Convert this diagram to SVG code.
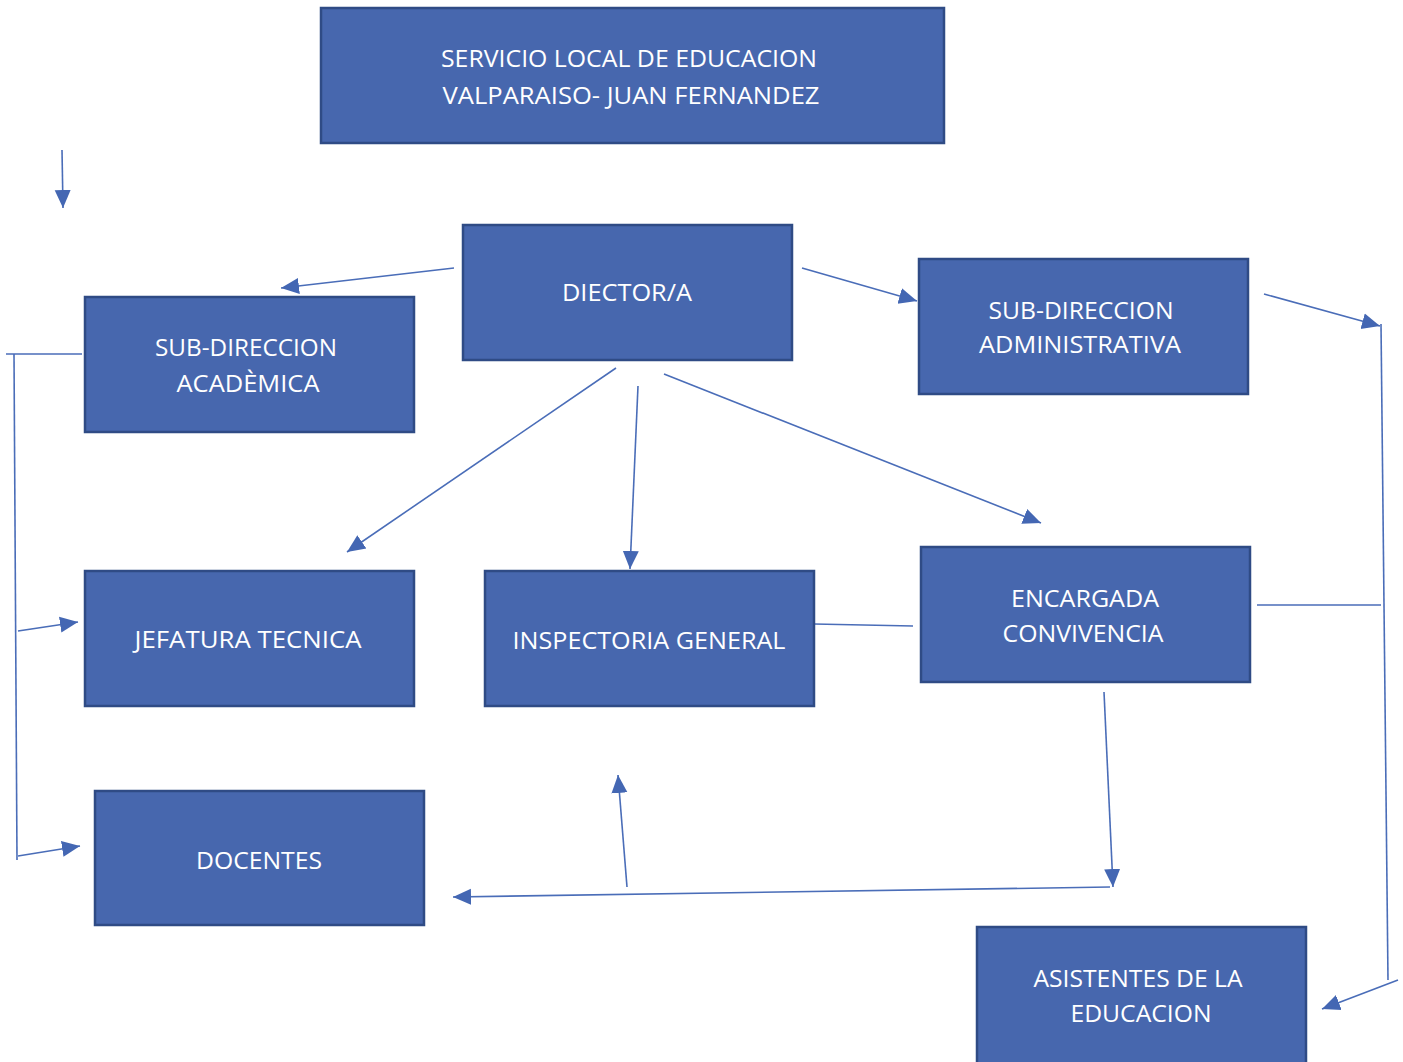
<svg xmlns="http://www.w3.org/2000/svg" width="1403" height="1062" viewBox="0 0 1403 1062">
<defs>
<style>
.box{fill:#4767AE;stroke:#2F4B85;stroke-width:2.5}
.t{fill:#ffffff;font-family:"Open Sans","Noto Sans",sans-serif;font-size:23px;text-anchor:middle}
.c{stroke:#4A6DB8;stroke-width:1.6;fill:none}
</style>
<marker id="ah" markerUnits="userSpaceOnUse" markerWidth="20" markerHeight="18" viewBox="0 0 20 18" refX="18" refY="9" orient="auto">
<path d="M0,1 L18,9 L0,17 Z" fill="#4467B3"/>
</marker>
</defs>
<rect width="1403" height="1062" fill="#ffffff"/>
<g id="connectors">
<line class="c" x1="62" y1="150" x2="63" y2="208" marker-end="url(#ah)"/>
<line class="c" x1="454" y1="268" x2="281" y2="288" marker-end="url(#ah)"/>
<line class="c" x1="802" y1="268" x2="917" y2="301" marker-end="url(#ah)"/>
<line class="c" x1="1264" y1="294" x2="1380" y2="326" marker-end="url(#ah)"/>
<line class="c" x1="1381" y1="324" x2="1388" y2="980"/>
<line class="c" x1="1398" y1="980" x2="1322" y2="1009" marker-end="url(#ah)"/>
<line class="c" x1="616" y1="368" x2="347" y2="552" marker-end="url(#ah)"/>
<line class="c" x1="638" y1="386" x2="630" y2="569" marker-end="url(#ah)"/>
<line class="c" x1="664" y1="374" x2="1041" y2="523" marker-end="url(#ah)"/>
<line class="c" x1="6" y1="354" x2="82" y2="354"/>
<line class="c" x1="14" y1="354" x2="17" y2="860"/>
<line class="c" x1="18" y1="631" x2="78" y2="622" marker-end="url(#ah)"/>
<line class="c" x1="18" y1="856" x2="80" y2="846" marker-end="url(#ah)"/>
<line class="c" x1="814" y1="624" x2="913" y2="626"/>
<line class="c" x1="1257" y1="605" x2="1381" y2="605"/>
<line class="c" x1="1104" y1="692" x2="1113" y2="887" marker-end="url(#ah)"/>
<line class="c" x1="1110" y1="887" x2="453" y2="897" marker-end="url(#ah)"/>
<line class="c" x1="627" y1="887" x2="618" y2="775" marker-end="url(#ah)"/>
</g>
<g id="servicio">
<rect class="box" x="321" y="8" width="623" height="135"/>
<text class="t" x="629" y="67" textLength="376" lengthAdjust="spacingAndGlyphs">SERVICIO LOCAL DE EDUCACION</text>
<text class="t" x="631" y="104" textLength="377" lengthAdjust="spacingAndGlyphs">VALPARAISO- JUAN FERNANDEZ</text>
</g>
<g id="director">
<rect class="box" x="463" y="225" width="329" height="135"/>
<text class="t" x="627" y="301" textLength="130" lengthAdjust="spacingAndGlyphs">DIECTOR/A</text>
</g>
<g id="subacademica">
<rect class="box" x="85" y="297" width="329" height="135"/>
<text class="t" x="246" y="356" textLength="182" lengthAdjust="spacingAndGlyphs">SUB-DIRECCION</text>
<text class="t" x="248" y="392" textLength="143" lengthAdjust="spacingAndGlyphs">ACADÈMICA</text>
</g>
<g id="subadministrativa">
<rect class="box" x="919" y="259" width="329" height="135"/>
<text class="t" x="1081" y="319" textLength="185" lengthAdjust="spacingAndGlyphs">SUB-DIRECCION</text>
<text class="t" x="1080" y="353" textLength="202" lengthAdjust="spacingAndGlyphs">ADMINISTRATIVA</text>
</g>
<g id="jefatura">
<rect class="box" x="85" y="571" width="329" height="135"/>
<text class="t" x="248" y="648" textLength="227" lengthAdjust="spacingAndGlyphs">JEFATURA TECNICA</text>
</g>
<g id="inspectoria">
<rect class="box" x="485" y="571" width="329" height="135"/>
<text class="t" x="649" y="649" textLength="273" lengthAdjust="spacingAndGlyphs">INSPECTORIA GENERAL</text>
</g>
<g id="encargada">
<rect class="box" x="921" y="547" width="329" height="135"/>
<text class="t" x="1085" y="607" textLength="148" lengthAdjust="spacingAndGlyphs">ENCARGADA</text>
<text class="t" x="1083" y="642" textLength="161" lengthAdjust="spacingAndGlyphs">CONVIVENCIA</text>
</g>
<g id="docentes">
<rect class="box" x="95" y="791" width="329" height="134"/>
<text class="t" x="259" y="869" textLength="126" lengthAdjust="spacingAndGlyphs">DOCENTES</text>
</g>
<g id="asistentes">
<rect class="box" x="977" y="927" width="329" height="140"/>
<text class="t" x="1138" y="987" textLength="209" lengthAdjust="spacingAndGlyphs">ASISTENTES DE LA</text>
<text class="t" x="1141" y="1022" textLength="141" lengthAdjust="spacingAndGlyphs">EDUCACION</text>
</g>
</svg>
